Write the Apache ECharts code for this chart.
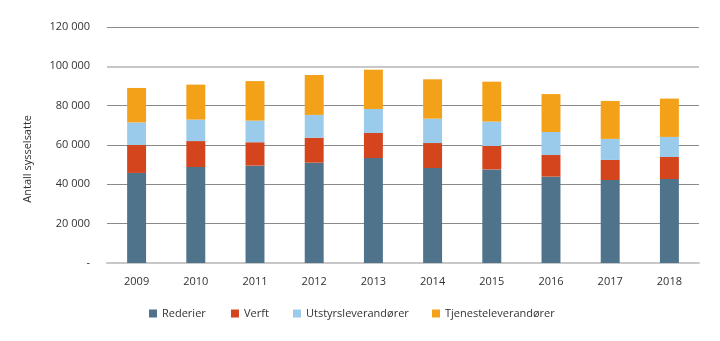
<!DOCTYPE html>
<html>
<head>
<meta charset="utf-8">
<script src="https://cdn.jsdelivr.net/npm/echarts@6/dist/echarts.min.js"></script>
<style>html,body{margin:0;padding:0;background:#fff}#c{width:720px;height:341px}</style>
</head>
<body>
<div id="c"></div>
<script>
const years = ['2009','2010','2011','2012','2013','2014','2015','2016','2017','2018'];
const rederier = [45800, 48800, 49500, 51000, 53400, 48300, 47600, 43900, 42200, 42700];
const verft = [14200, 13200, 11900, 12700, 12700, 12700, 11900, 11000, 10200, 11200];
const utstyr = [11500, 10900, 11000, 11600, 12200, 12400, 12400, 11700, 10700, 10200];
const tjeneste = [17500, 17800, 20100, 20300, 20000, 20000, 20300, 19300, 19300, 19500];
const seriesNames = ['Rederier', 'Verft', 'Utstyrsleverandører', 'Tjenesteleverandører'];
const colors = ['#4e738a', '#d4451d', '#9bcbeb', '#f4a11a'];
const FONT = 'Open Sans';

const chart = echarts.init(document.getElementById('c'));
function fmt(v){
  if (v === 0) return '-';
  return String(v).replace(/\B(?=(\d{3})+(?!\d))/g, ' ');
}
const data = [rederier, verft, utstyr, tjeneste];
const legendLeft = [144, 226, 288, 427];
chart.setOption({
  animation: false,
  color: colors,
  textStyle: {fontFamily: FONT},
  grid: {left: 107, right: 21, top: 27, bottom: 78},
  legend: seriesNames.map((n, i) => ({
    data: [n],
    left: legendLeft[i], top: 303,
    icon: 'rect', itemWidth: 8, itemHeight: 8, itemGap: 0,
    textStyle: {fontFamily: FONT, fontSize: 11, color: '#333', padding: [0,0,0,0]}
  })),
  xAxis: {
    type: 'category', data: years,
    axisLine: {show: true, lineStyle: {color: '#c8c8c8', width: 2}},
    axisTick: {show: false},
    axisLabel: {fontFamily: FONT, fontSize: 11, color: '#333', margin: 13}
  },
  yAxis: {
    type: 'value', min: 0, max: 120000, interval: 20000,
    axisLine: {show: false}, axisTick: {show: false},
    axisLabel: {fontFamily: FONT, fontSize: 11, color: '#333', margin: 17, formatter: fmt},
    splitLine: {lineStyle: {color: ['#c8c8c8','#8a8a8a','#8a8a8a','#8a8a8a','#8a8a8a','#c8c8c8','#8a8a8a'], width: 1}}
  },
  graphic: [{
    type: 'text', left: 22, top: 115, rotation: Math.PI/2,
    style: {text: 'Antall sysselsatte', fontFamily: FONT, fontSize: 11, fill: '#333'}
  }],
  series: seriesNames.map((n, i) => ({
    name: n, type: 'bar', stack: 'total', barWidth: '32%',
    data: data[i],
    markLine: i === 0 ? {silent: true, symbol: 'none', label: {show: false},
      lineStyle: {color: '#c8c8c8', width: 2, type: 'solid'}, data: [{yAxis: 100000}]} : undefined
  }))
});
</script>
</body>
</html>
